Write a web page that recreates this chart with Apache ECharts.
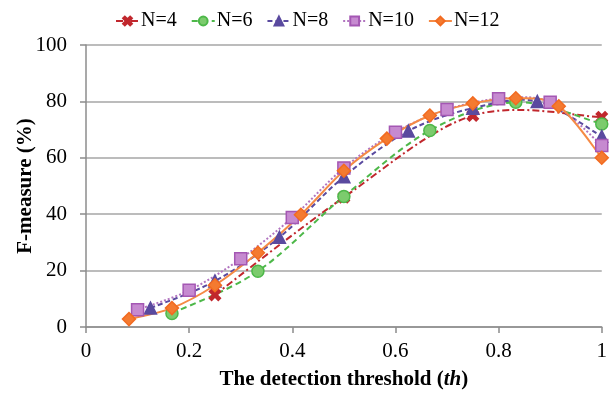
<!DOCTYPE html>
<html>
<head>
<meta charset="utf-8">
<script src="https://cdn.jsdelivr.net/npm/echarts@6/dist/echarts.min.js"></script>
<style>html,body{margin:0;padding:0;background:#fff}#c{width:610px;height:395px}</style>
</head>
<body>
<div id="c"></div>
<script>
const seriesNames = ['N=4', 'N=6', 'N=8', 'N=10', 'N=12'];
const xN4 = [0.25, 0.5, 0.75, 1.0];
const yN4 = [11.4, 46.0, 75.0, 74.4];
const xN6 = [1/6, 2/6, 3/6, 4/6, 5/6, 1.0];
const yN6 = [4.8, 19.8, 46.3, 69.7, 79.7, 72.0];
const xN8 = [0.125, 0.25, 0.375, 0.5, 0.625, 0.75, 0.875, 1.0];
const yN8 = [6.7, 16.3, 31.8, 53.3, 69.5, 77.6, 80.0, 67.6];
const xN10 = [0.1, 0.2, 0.3, 0.4, 0.5, 0.6, 0.7, 0.8, 0.9, 1.0];
const yN10 = [6.1, 13.0, 24.2, 38.8, 56.4, 69.1, 77.1, 80.9, 79.7, 64.4];
const xN12 = [1/12, 2/12, 3/12, 4/12, 5/12, 6/12, 7/12, 8/12, 9/12, 10/12, 11/12, 1.0];
const yN12 = [2.8, 6.7, 14.8, 26.3, 39.8, 55.4, 66.8, 75.0, 79.3, 81.1, 78.3, 60.0];
const xTicks = [0, 0.2, 0.4, 0.6, 0.8, 1];
const yTicks = [0, 20, 40, 60, 80, 100];

const xsAll = [xN4, xN6, xN8, xN10, xN12];
const ysAll = [yN4, yN6, yN8, yN10, yN12];
const pair = (xs, ys) => xs.map((x, i) => [x, ys[i]]);
const xPath = 'path://M2,0 L5,3 L8,0 L10,2 L7,5 L10,8 L8,10 L5,7 L2,10 L0,8 L3,5 L0,2 Z';
const font = '"Liberation Serif", "Times New Roman", serif';

const styles = [
  {line: '#C1272D', fill: '#C1272D', border: '#C1272D', symbol: xPath, size: 11, dash: [7, 3, 2, 3]},
  {line: '#4DB849', fill: '#7CCB6D', border: '#4DB849', symbol: 'circle', size: 12, dash: [6, 4]},
  {line: '#5A4A9F', fill: '#5A4A9F', border: '#5A4A9F', symbol: 'triangle', size: 12, dash: [5, 3]},
  {line: '#B275C0', fill: '#C68AD0', border: '#A457B3', symbol: 'rect', size: 12, dash: [2, 2]},
  {line: '#F58A45', fill: '#F47A30', border: '#F26B21', symbol: 'diamond', size: 13, dash: null}
];

// Smooth curve (Catmull-Rom style, like the spreadsheet's smoothed lines) through data points via the axis scales
function makeRender(xs, ys, st) {
  return function (params, api) {
    const pts = xs.map((x, i) => api.coord([x, ys[i]]));
    let d = 'M' + pts[0][0] + ',' + pts[0][1];
    for (let i = 0; i < pts.length - 1; i++) {
      const p0 = pts[i - 1] || pts[i], p1 = pts[i], p2 = pts[i + 1], p3 = pts[i + 2] || pts[i + 1];
      const c1 = [p1[0] + (p2[0] - p0[0]) / 6, p1[1] + (p2[1] - p0[1]) / 6];
      const c2 = [p2[0] - (p3[0] - p1[0]) / 6, p2[1] - (p3[1] - p1[1]) / 6];
      d += ' C' + c1[0] + ',' + c1[1] + ' ' + c2[0] + ',' + c2[1] + ' ' + p2[0] + ',' + p2[1];
    }
    return {
      type: 'path',
      shape: {pathData: d},
      style: {fill: 'none', stroke: st.line, lineWidth: 2, lineDash: st.dash || null}
    };
  };
}

const lineSeries = styles.map((s, i) => ({
  name: seriesNames[i],
  type: 'line',
  data: pair(xsAll[i], ysAll[i]),
  clip: false,
  symbol: s.symbol,
  symbolSize: s.size,
  showAllSymbol: true,
  z: 10 + i,
  lineStyle: {color: s.line, width: 2, type: s.dash || 'solid', opacity: 0},
  itemStyle: {color: s.fill, borderColor: s.border, borderWidth: 1.5, opacity: 1}
}));

const curveSeries = styles.map((s, i) => ({
  type: 'custom',
  name: 'curve' + i,
  silent: true,
  z: 2 + i,
  data: [[xsAll[i][0], ysAll[i][0]]],
  encode: {x: 0, y: 1},
  renderItem: makeRender(xsAll[i], ysAll[i], s)
}));

const chart = echarts.init(document.getElementById('c'));
chart.setOption({
  animation: false,
  backgroundColor: '#fff',
  textStyle: {fontFamily: font},
  legend: {
    top: 6,
    left: 110,
    itemWidth: 23,
    itemHeight: 11,
    itemGap: 14,
    textStyle: {fontFamily: font, fontSize: 20, color: '#000', padding: [0, 0, 0, -3]},
    data: seriesNames.map((n, i) => ({
      name: n,
      lineStyle: {color: styles[i].line, width: 2, type: styles[i].dash || 'solid', opacity: 1}
    }))
  },
  grid: {left: 86, right: 1, top: 45, bottom: 66},
  xAxis: {
    type: 'value', min: 0, max: 1, interval: 0.2,
    name: 'The detection threshold ({i|th})',
    nameLocation: 'middle', nameGap: 42, nameMoveOverlap: false,
    nameTextStyle: {
      fontFamily: font, fontSize: 21, fontWeight: 'bold', color: '#000',
      rich: {i: {fontFamily: font, fontSize: 21, fontWeight: 'bold', fontStyle: 'italic', color: '#000'}}
    },
    axisLine: {show: true, lineStyle: {color: '#8C8C8C', width: 1.5}},
    axisTick: {show: true, length: 6, lineStyle: {color: '#8C8C8C', width: 1.5}},
    axisLabel: {fontFamily: font, fontSize: 21, color: '#000', margin: 14,
      formatter: v => String(+v.toFixed(1))},
    splitLine: {show: false}
  },
  yAxis: {
    type: 'value', min: 0, max: 100, interval: 20,
    name: 'F-measure (%)',
    nameLocation: 'middle', nameGap: 50, nameMoveOverlap: false,
    nameTextStyle: {fontFamily: font, fontSize: 21, fontWeight: 'bold', color: '#000'},
    axisLine: {show: true, lineStyle: {color: '#8C8C8C', width: 1.5}},
    axisTick: {show: true, length: 6, inside: false, lineStyle: {color: '#8C8C8C', width: 1.5}},
    axisLabel: {fontFamily: font, fontSize: 21, color: '#000', margin: 19},
    splitLine: {show: true, lineStyle: {color: '#A6A6A6', width: 1.5}}
  },
  series: curveSeries.concat(lineSeries)
});
</script>
</body>
</html>
